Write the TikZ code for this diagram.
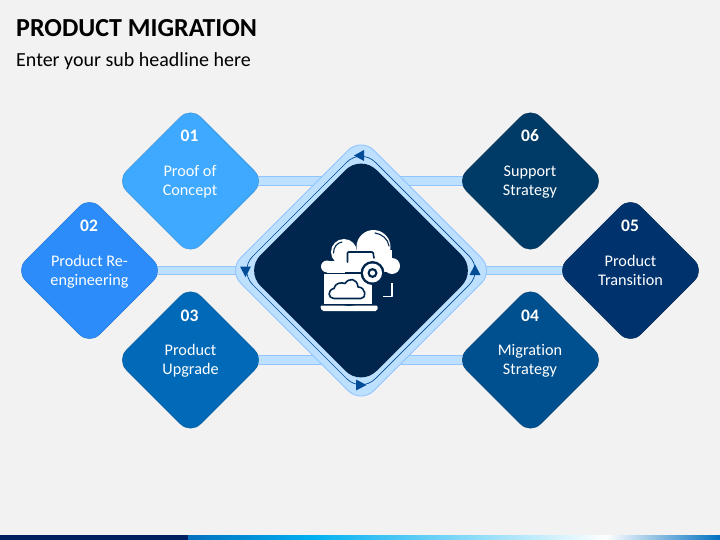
\documentclass[tikz,border=0pt]{standalone}
\usepackage{fontspec}
\setmainfont[Ligatures=NoCommon]{Carlito}
\usetikzlibrary{shapes.geometric,backgrounds}
\definecolor{pagebg}{HTML}{F2F2F2}
\definecolor{cA}{HTML}{3FA9FF}
\definecolor{cB}{HTML}{2B8CFA}
\definecolor{cC}{HTML}{006AB8}
\definecolor{cD}{HTML}{00508F}
\definecolor{cE}{HTML}{00336E}
\definecolor{cF}{HTML}{003A66}
\definecolor{cCore}{HTML}{00264D}
\definecolor{ringfill}{HTML}{BDE0FF}
\definecolor{ringedge}{HTML}{90C5FF}
\definecolor{arrowblue}{HTML}{004C97}
\definecolor{bandA}{HTML}{002060}
\definecolor{bandB}{HTML}{0070C0}
\definecolor{bandC}{HTML}{00B0F0}
\tikzset{
  x=1pt,y=-1pt,
  dmd/.style={diamond,aspect=1,minimum width=148pt,minimum height=148pt,inner sep=0pt,outer sep=0pt,rounded corners=14pt,draw=#1!85!black,line width=0.4pt,fill=#1},
  num/.style={text=white,font=\fontsize{17.5}{17.5}\selectfont\bfseries,inner sep=0pt},
  lab/.style={text=white,font=\fontsize{16.2}{19.2}\selectfont,align=center,inner sep=0pt},
  bar/.style={draw=ringedge,line width=0.8pt,double=ringfill,double distance=7.5pt},
  tip/.style={fill=arrowblue,draw=none}
}
\begin{document}
\begin{tikzpicture}
\useasboundingbox (0,0) rectangle (720,540);
\begin{scope}[on background layer]
\fill[pagebg] (0,0) rectangle (720,540);
\end{scope}
% central diamonds
\node[diamond,aspect=1,minimum width=266pt,minimum height=266pt,inner sep=0pt,outer sep=0pt,rounded corners=18pt,draw=ringedge,line width=0.9pt,fill=ringfill] (ring) at (361,270.5) {};
\node[diamond,aspect=1,minimum width=245pt,minimum height=245pt,inner sep=0pt,outer sep=0pt,rounded corners=20pt,draw=arrowblue,line width=0.7pt] (track) at (361,270.5) {};
\node[diamond,aspect=1,minimum width=232pt,minimum height=232pt,inner sep=0pt,outer sep=0pt,rounded corners=22pt,fill=cCore] (core) at (361,270.5) {};
% outer diamonds
\node[dmd=cA] (d1) at (190.5,181) {};
\node[dmd=cB] (d2) at (89.5,270.5) {};
\node[dmd=cC] (d3) at (190.5,360) {};
\node[dmd=cD] (d4) at (530.5,360) {};
\node[dmd=cE] (d5) at (630.5,270.5) {};
\node[dmd=cF] (d6) at (530.5,181) {};
% connectors
\begin{scope}[on background layer]
\draw[bar] (d1.center) -- (d1.center -| ring.center);
\draw[bar] (d2.center) -- (d2.center -| ring.center);
\draw[bar] (d3.center) -- (d3.center -| ring.center);
\draw[bar] (d4.center) -- (d4.center -| ring.center);
\draw[bar] (d5.center) -- (d5.center -| ring.center);
\draw[bar] (d6.center) -- (d6.center -| ring.center);
\end{scope}
% arrowheads on the track
\fill[tip] (354,155.5) -- (364,150) -- (364,161) -- cycle;
\fill[tip] (245.5,277) -- (240,266.5) -- (251,266.5) -- cycle;
\fill[tip] (366.5,385) -- (356,379.5) -- (356,390.5) -- cycle;
\fill[tip] (475,264.5) -- (469.5,275) -- (480.5,275) -- cycle;
% text
\node[num] (n1) at (189.5,135.5) {01};
\node[num] (n2) at (89,225.5) {02};
\node[num] (n3) at (189.5,315.5) {03};
\node[num] (n4) at (530,315.5) {04};
\node[num] (n5) at (630,225.5) {05};
\node[num] (n6) at (530,135.5) {06};
\node[lab] (t1) at (190,181.5) {Proof of\\Concept};
\node[lab] (t2) at (89.5,271.7) {Product Re-\\engineering};
\node[lab] (t3) at (190.5,360.5) {Product\\Upgrade};
\node[lab] (t4) at (530,360.5) {Migration\\Strategy};
\node[lab] (t5) at (630.5,270.7) {Product\\Transition};
\node[lab] (t6) at (530,182.4) {Support\\Strategy};
\node[anchor=base west,inner sep=0pt,text=black,font=\fontsize{26}{26}\selectfont\bfseries] (title) at (16,37) {PRODUCT MIGRATION};
\node[anchor=base west,inner sep=0pt,text=black,font=\fontsize{20}{20}\selectfont] (sub) at (16,66.5) {Enter your sub headline here};
% icon: cloud
\fill[white] (373.5,247) circle (17);
\fill[white] (344,252) circle (13);
\fill[white] (392,266) circle (8);
\fill[white] (327,266.5) circle (6);
\fill[white] (340,250) rectangle (392,272);
\fill[white] (327,261) rectangle (345,273);
% icon: highlights and folder edge
\draw[cCore,line width=1.1pt,line cap=round] (333.5,253) .. controls (333.5,247) and (337,243) .. (342,242);
\draw[cCore,line width=1.1pt,line cap=round] (375,233) .. controls (382,234) and (388,239) .. (389,246);
\draw[cCore,line width=1.6pt,line cap=round,line join=round,rounded corners=1pt] (347.5,262) -- (347.5,252) -- (373,252) -- (374,258);
% icon: laptop
\fill[cCore] (320,272.5) rectangle (372,274);
\fill[white] (324,274) rectangle (372,304);
\fill[white,rounded corners=1.5pt] (320,305.5) -- (378,305.5) -- (377,311) -- (322,311) -- cycle;
\fill[cCore] (340,304) .. controls (346,306.5) and (352,306.5) .. (358,304) -- cycle;
\draw[cCore,line width=1.6pt,line join=round] (334,298.5) .. controls (328,298.5) and (327,290) .. (334,288.5) .. controls (335,283) and (341,282) .. (345,283.5) .. controls (349,277.5) and (357,278) .. (358,287) .. controls (366,287) and (367,298.5) .. (361,298.5) -- cycle;
% icon: gear
\fill[cCore] (372.5,273) circle (12);
\fill[white] (372.5,273) circle (9.5);
\fill[cCore] (372.5,273) circle (5);
\fill[white] (372.5,273) circle (2.6);
\draw[white,line width=1.7pt,line join=round] (392,283) -- (392,296.5) -- (383,296.5);
% bottom band
\fill[bandA] (0,535) rectangle (188,540);
\fill[left color=bandB,right color=bandC] (188,535) rectangle (312,540);
\fill[left color=bandC,right color=white] (312,535) rectangle (606,540);
\fill[left color=white,right color=bandB] (606,535) rectangle (720,540);
\end{tikzpicture}
\end{document}
